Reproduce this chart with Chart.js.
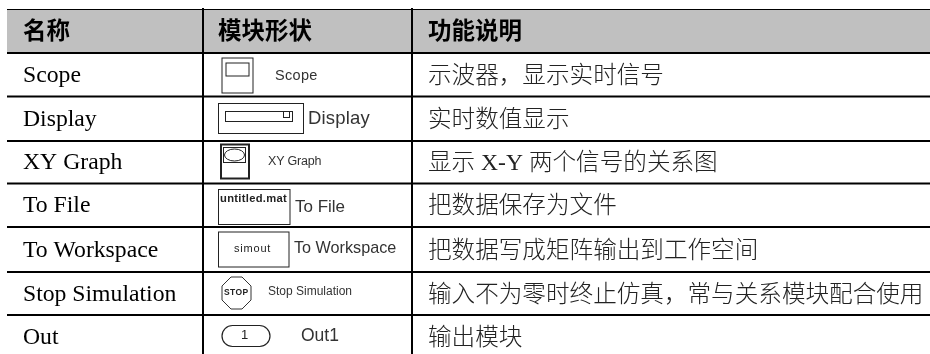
<!DOCTYPE html>
<html>
<head>
<meta charset="utf-8">
<style>
  html, body { margin: 0; padding: 0; background: #fff; }
  canvas { display: block; }
</style>
<script src="https://cdn.jsdelivr.net/npm/chart.js@4/dist/chart.umd.min.js"></script>
</head>
<body>
<canvas id="tableChart" width="930" height="354"></canvas>
<script>
const headers = ['名称', '模块形状', '功能说明'];
const rowNames = ['Scope', 'Display', 'XY Graph', 'To File', 'To Workspace', 'Stop Simulation', 'Out'];
const blockLabels = ['Scope', 'Display', 'XY Graph', 'To File', 'To Workspace', 'Stop Simulation', 'Out1'];
const functionTexts = [
  '示波器，显示实时信号',
  '实时数值显示',
  '显示 X-Y 两个信号的关系图',
  '把数据保存为文件',
  '把数据写成矩阵输出到工作空间',
  '输入不为零时终止仿真，常与关系模块配合使用',
  '输出模块'
];
// the last row runs off the bottom of the page, so its edge has no rule
const rowEdges = [53, 96.5, 141, 183.5, 227, 272, 315, 358];
const columnEdges = [203, 412];

const SERIF = '"Liberation Serif", "Noto Sans CJK SC", serif';
const SANS = '"Liberation Sans", sans-serif';
const HEAD = 'bold 23.5px "Liberation Serif", "Noto Sans CJK SC", sans-serif';

// rule lines are plain line datasets on the x/y scales
function hRule(y, w) {
  return { data: [{ x: 7, y: y }, { x: 930, y: y }], showLine: true, borderColor: '#000', borderWidth: w, pointRadius: 0, clip: false };
}
function vRule(x) {
  return { data: [{ x: x, y: 8 }, { x: x, y: 354 }], showLine: true, borderColor: '#000', borderWidth: 2, pointRadius: 0, clip: false };
}
const ruleSets = [hRule(9.5, 1.2)]
  .concat(rowEdges.slice(0, -1).map(function (y) { return hRule(y, 2); }))
  .concat(columnEdges.map(vRule));

// block icon drawings, one per row, in scale units
const iconDrawers = [
  function (g) { // scope
    g.box(222, 58, 31, 35); g.box(226, 63, 23, 13);
  },
  function (g) { // display
    g.box(218.5, 103.5, 85, 30); g.box(225.5, 111.5, 67, 10); g.box(283.5, 111.5, 6, 6);
  },
  function (g) { // xy graph
    g.box(221, 144.5, 28, 34, 2); g.box(223.5, 147.5, 22, 15);
    g.oval(234.5, 155, 10, 6);
  },
  function (g) { // to file
    g.box(218.5, 189.5, 71.5, 35);
    g.text('untitled.mat', 220, 198.5, 'bold 11.2px ' + SANS, 0.3, '#222');
  },
  function (g) { // to workspace
    g.box(218.5, 232, 70.5, 35);
    g.text('simout', 234, 248.5, '11px ' + SANS, 0.8, '#222');
  },
  function (g) { // stop
    g.poly([[231, 277], [242, 277], [251, 286], [251, 300], [242, 309], [231, 309], [222, 300], [222, 286]]);
    g.text('STOP', 224, 292.5, 'bold 8.5px ' + SANS, 0.4, '#222');
  },
  function (g) { // out
    g.stadium(222, 325.5, 48, 21);
    g.text('1', 241, 335.5, '13px ' + SANS, 0, '#222');
  }
];
const labelSpots = [
  { x: 275, y: 76, font: '14.5px ' + SANS, gap: 0.3 },
  { x: 308, y: 118.5, font: '18.5px ' + SANS, gap: 0.2 },
  { x: 268, y: 162, font: '12.5px ' + SANS, gap: -0.2 },
  { x: 295, y: 207, font: '17px ' + SANS, gap: 0 },
  { x: 294, y: 249, font: '16.2px ' + SANS, gap: 0 },
  { x: 268, y: 292, font: '12px ' + SANS, gap: 0 },
  { x: 301, y: 336, font: '17.5px ' + SANS, gap: 0 }
];

const tablePlugin = {
  id: 'tablePlugin',
  beforeDatasetsDraw: function (chart) {
    const c = chart.ctx, sx = chart.scales.x, sy = chart.scales.y;
    c.fillStyle = '#c0c0c0';
    c.fillRect(sx.getPixelForValue(7), sy.getPixelForValue(10), sx.getPixelForValue(930) - sx.getPixelForValue(7), sy.getPixelForValue(53) - sy.getPixelForValue(10));
  },
  afterDatasetsDraw: function (chart) {
    const c = chart.ctx, sx = chart.scales.x, sy = chart.scales.y;
    const X = function (v) { return sx.getPixelForValue(v); };
    const Y = function (v) { return sy.getPixelForValue(v); };
    const text = function (t, x, y, font, gap, color) {
      c.font = font;
      c.letterSpacing = (gap || 0) + 'px';
      c.fillStyle = color || '#000';
      c.textAlign = 'left';
      c.textBaseline = 'middle';
      c.fillText(t, X(x), Y(y));
      c.letterSpacing = '0px';
    };
    const g = {
      text: text,
      box: function (x, y, w, h, lw) {
        c.strokeStyle = '#222';
        c.lineWidth = lw || 1;
        c.strokeRect(X(x), Y(y), w, h);
      },
      oval: function (x, y, rx, ry) {
        c.strokeStyle = '#222';
        c.lineWidth = 1;
        c.beginPath();
        c.ellipse(X(x), Y(y), rx, ry, 0, 0, Math.PI * 2);
        c.stroke();
      },
      poly: function (pts) {
        c.strokeStyle = '#333';
        c.lineWidth = 1;
        c.beginPath();
        pts.forEach(function (p, i) {
          if (i) c.lineTo(X(p[0]), Y(p[1])); else c.moveTo(X(p[0]), Y(p[1]));
        });
        c.closePath();
        c.stroke();
      },
      stadium: function (x, y, w, h) {
        c.strokeStyle = '#222';
        c.lineWidth = 1.2;
        c.beginPath();
        c.roundRect(X(x), Y(y), w, h, 10.5);
        c.stroke();
      }
    };

    // header row
    text(headers[0], 23, 33, HEAD);
    text(headers[1], 218, 33, HEAD);
    text(headers[2], 428, 33, HEAD);

    // body rows
    rowNames.forEach(function (name, i) {
      const mid = (rowEdges[i] + rowEdges[i + 1]) / 2;
      text(name, 23, mid + 1, '23.7px ' + SERIF);
      iconDrawers[i](g);
      const spot = labelSpots[i];
      text(blockLabels[i], spot.x, spot.y, spot.font, spot.gap, '#333');
      text(functionTexts[i], 428, mid + 2, '300 23.6px ' + SERIF, 0, '#222');
    });
  }
};

new Chart(document.getElementById('tableChart'), {
  type: 'scatter',
  data: { datasets: ruleSets },
  options: {
    responsive: false,
    animation: false,
    layout: { padding: 0 },
    plugins: { legend: { display: false }, tooltip: { enabled: false } },
    scales: {
      x: { type: 'linear', min: 0, max: 930, display: false },
      y: { type: 'linear', min: 0, max: 354, reverse: true, display: false }
    }
  },
  plugins: [tablePlugin]
});
</script>
</body>
</html>
